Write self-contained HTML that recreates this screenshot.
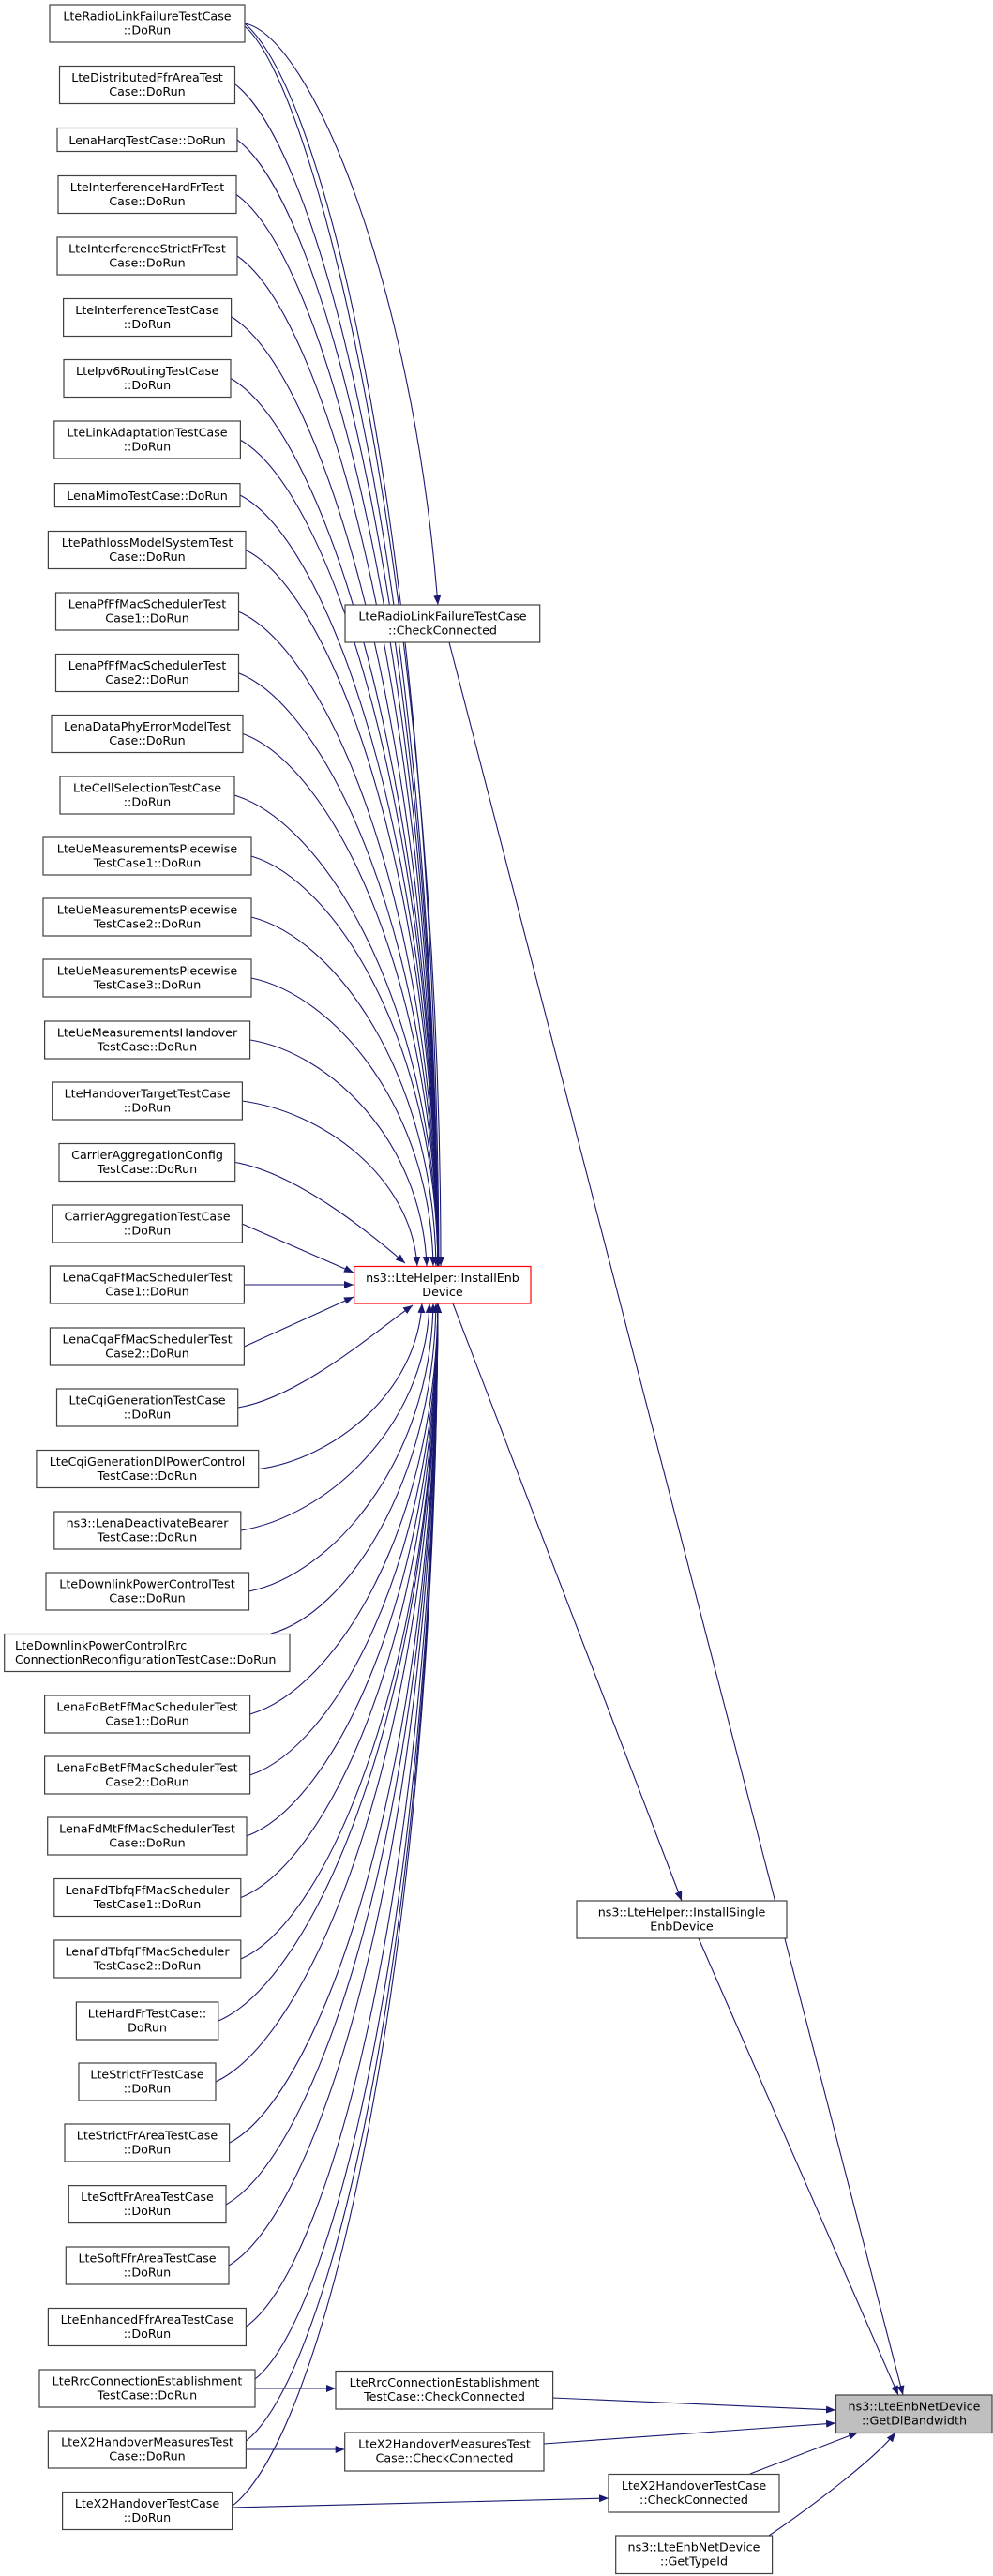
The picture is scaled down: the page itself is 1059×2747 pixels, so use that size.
<!DOCTYPE html>
<html><head><meta charset="utf-8"><style>
html,body{margin:0;padding:0;background:#fff;}
svg{display:block;}
text{font-family:"DejaVu Sans","Liberation Sans",sans-serif;font-size:12.7px;fill:#000;}
.b{fill:#fff;stroke:#404040;stroke-width:1.2;}
.e{fill:none;stroke:#191970;stroke-width:1.1;}
</style></head><body>
<svg width="1059" height="2747" viewBox="0 0 1059 2747" xmlns="http://www.w3.org/2000/svg">
<defs><marker id="a" markerUnits="userSpaceOnUse" markerWidth="11" markerHeight="8" refX="10" refY="4" orient="auto"><path d="M0,0 L10,4 L0,8 z" fill="#191970"/></marker></defs>
<g class="e" marker-end="url(#a)">
<path d="M261,25 C330,38 440,300 467,645"/>
<path d="M261,25 C354,105 465,621 468,1350"/>
<path d="M261,28 C340,95 470,650 470,1350"/>
<path d="M251,90 C348,166 464,657 467,1350"/>
<path d="M253,149 C349,221 464,689 467,1350"/>
<path d="M252,207.5 C349,276 464,722 467,1350"/>
<path d="M253,273 C349,338 464,758 467,1350"/>
<path d="M247,338 C346,399 464,793 467,1350"/>
<path d="M246,403.5 C345,460 464,829 467,1350"/>
<path d="M256,469 C351,522 464,865 467,1350"/>
<path d="M256,528 C351,577 464,898 467,1350"/>
<path d="M262,586.5 C354,632 464,930 467,1350"/>
<path d="M254,652 C350,694 464,966 467,1350"/>
<path d="M254,717.5 C350,755 464,1002 467,1350"/>
<path d="M259,782.5 C352,816 464,1038 467,1350"/>
<path d="M250,848 C348,878 464,1074 467,1350"/>
<path d="M268,913 C357,939 464,1110 467,1350"/>
<path d="M268,978 C357,1000 462,1145 465,1350"/>
<path d="M268,1043 C356,1061 459,1181 462,1350"/>
<path d="M267,1109 C352,1123 450,1217 455,1350"/>
<path d="M258,1174 C342,1185 438,1253 445,1350"/>
<path d="M251,1239.5 C320,1252 400,1320 432,1347"/>
<path d="M258,1305 L377,1357"/>
<path d="M260.5,1370 L377,1370"/>
<path d="M260.5,1436 L377,1383"/>
<path d="M254,1501 C320,1490 400,1420 440,1392"/>
<path d="M276,1566.5 C354,1556 444,1487 450,1390"/>
<path d="M257,1632 C347,1617 454,1523 458,1390"/>
<path d="M265.5,1697 C354,1679 459,1559 462,1390"/>
<path d="M289,1742 C368,1721 462,1584 465,1390"/>
<path d="M266.6,1828 C357,1802 464,1631 467,1390"/>
<path d="M266.6,1893 C357,1863 464,1667 467,1390"/>
<path d="M263,1958 C355,1924 464,1702 467,1390"/>
<path d="M257,2023.5 C352,1985 464,1738 467,1390"/>
<path d="M257,2089 C352,2047 464,1774 467,1390"/>
<path d="M233,2155 C338,2109 464,1811 467,1390"/>
<path d="M230,2220 C336,2170 464,1846 467,1390"/>
<path d="M245,2285 C345,2231 464,1882 467,1390"/>
<path d="M241,2351 C343,2293 464,1918 467,1390"/>
<path d="M244,2416 C345,2354 464,1954 467,1390"/>
<path d="M262.5,2481 C354,2416 464,1990 467,1390"/>
<path d="M272,2537 C358,2468 464,2021 467,1390"/>
<path d="M262.5,2603 C354,2530 464,2057 467,1390"/>
<path d="M248,2672 C347,2595 464,2095 467,1390"/>
<path d="M479,685 L963,2554"/>
<path d="M483,1390 L727,2027"/>
<path d="M745,2067 L958,2554"/>
<path d="M272,2547 L358,2547"/>
<path d="M589.6,2557 L891,2570"/>
<path d="M262.5,2612 L367.7,2612"/>
<path d="M580,2606 L891,2584"/>
<path d="M248,2674 L649,2664"/>
<path d="M800,2638 L915,2594"/>
<path d="M820,2704 C870,2670 935,2620 955,2594"/>
</g>
<g>
<rect class="b" x="53" y="5" width="208" height="40"/><text x="157" y="21.5" text-anchor="middle">LteRadioLinkFailureTestCase</text><text x="157" y="36.5" text-anchor="middle">::DoRun</text>
<rect class="b" x="63.5" y="70.5" width="187" height="40"/><text x="157" y="87" text-anchor="middle">LteDistributedFfrAreaTest</text><text x="157" y="102" text-anchor="middle">Case::DoRun</text>
<rect class="b" x="61" y="136.5" width="192" height="25"/><text x="157" y="154" text-anchor="middle">LenaHarqTestCase::DoRun</text>
<rect class="b" x="62" y="187.5" width="190" height="40"/><text x="157" y="204" text-anchor="middle">LteInterferenceHardFrTest</text><text x="157" y="219" text-anchor="middle">Case::DoRun</text>
<rect class="b" x="61" y="253" width="192" height="40"/><text x="157" y="269.5" text-anchor="middle">LteInterferenceStrictFrTest</text><text x="157" y="284.5" text-anchor="middle">Case::DoRun</text>
<rect class="b" x="67.6" y="318.5" width="179" height="40"/><text x="157" y="335" text-anchor="middle">LteInterferenceTestCase</text><text x="157" y="350" text-anchor="middle">::DoRun</text>
<rect class="b" x="68" y="383.5" width="178" height="40"/><text x="157" y="400" text-anchor="middle">LteIpv6RoutingTestCase</text><text x="157" y="415" text-anchor="middle">::DoRun</text>
<rect class="b" x="57.8" y="449" width="198.6" height="40"/><text x="157" y="465.5" text-anchor="middle">LteLinkAdaptationTestCase</text><text x="157" y="480.5" text-anchor="middle">::DoRun</text>
<rect class="b" x="58.4" y="515.6" width="197.6" height="25"/><text x="157" y="533" text-anchor="middle">LenaMimoTestCase::DoRun</text>
<rect class="b" x="51.4" y="566.5" width="210.6" height="40"/><text x="157" y="583" text-anchor="middle">LtePathlossModelSystemTest</text><text x="157" y="598" text-anchor="middle">Case::DoRun</text>
<rect class="b" x="59.5" y="632" width="195" height="40"/><text x="157" y="648.5" text-anchor="middle">LenaPfFfMacSchedulerTest</text><text x="157" y="663.5" text-anchor="middle">Case1::DoRun</text>
<rect class="b" x="59.5" y="697.5" width="195" height="40"/><text x="157" y="714" text-anchor="middle">LenaPfFfMacSchedulerTest</text><text x="157" y="729" text-anchor="middle">Case2::DoRun</text>
<rect class="b" x="55" y="762.5" width="204" height="40"/><text x="157" y="779" text-anchor="middle">LenaDataPhyErrorModelTest</text><text x="157" y="794" text-anchor="middle">Case::DoRun</text>
<rect class="b" x="64" y="828" width="186" height="40"/><text x="157" y="844.5" text-anchor="middle">LteCellSelectionTestCase</text><text x="157" y="859.5" text-anchor="middle">::DoRun</text>
<rect class="b" x="46" y="893" width="222" height="40"/><text x="157" y="909.5" text-anchor="middle">LteUeMeasurementsPiecewise</text><text x="157" y="924.5" text-anchor="middle">TestCase1::DoRun</text>
<rect class="b" x="46" y="958" width="222" height="40"/><text x="157" y="974.5" text-anchor="middle">LteUeMeasurementsPiecewise</text><text x="157" y="989.5" text-anchor="middle">TestCase2::DoRun</text>
<rect class="b" x="46" y="1023" width="222" height="40"/><text x="157" y="1039.5" text-anchor="middle">LteUeMeasurementsPiecewise</text><text x="157" y="1054.5" text-anchor="middle">TestCase3::DoRun</text>
<rect class="b" x="47.6" y="1089" width="219" height="40"/><text x="157" y="1105.5" text-anchor="middle">LteUeMeasurementsHandover</text><text x="157" y="1120.5" text-anchor="middle">TestCase::DoRun</text>
<rect class="b" x="55.7" y="1154" width="202.7" height="40"/><text x="157" y="1170.5" text-anchor="middle">LteHandoverTargetTestCase</text><text x="157" y="1185.5" text-anchor="middle">::DoRun</text>
<rect class="b" x="63" y="1219.5" width="187.7" height="40"/><text x="157" y="1236" text-anchor="middle">CarrierAggregationConfig</text><text x="157" y="1251" text-anchor="middle">TestCase::DoRun</text>
<rect class="b" x="55.7" y="1285" width="202.7" height="40"/><text x="157" y="1301.5" text-anchor="middle">CarrierAggregationTestCase</text><text x="157" y="1316.5" text-anchor="middle">::DoRun</text>
<rect class="b" x="53.4" y="1350" width="207" height="40"/><text x="157" y="1366.5" text-anchor="middle">LenaCqaFfMacSchedulerTest</text><text x="157" y="1381.5" text-anchor="middle">Case1::DoRun</text>
<rect class="b" x="53.4" y="1416" width="207" height="40"/><text x="157" y="1432.5" text-anchor="middle">LenaCqaFfMacSchedulerTest</text><text x="157" y="1447.5" text-anchor="middle">Case2::DoRun</text>
<rect class="b" x="60.5" y="1481" width="193.2" height="40"/><text x="157" y="1497.5" text-anchor="middle">LteCqiGenerationTestCase</text><text x="157" y="1512.5" text-anchor="middle">::DoRun</text>
<rect class="b" x="38.9" y="1546.5" width="236.8" height="40"/><text x="157" y="1563" text-anchor="middle">LteCqiGenerationDlPowerControl</text><text x="157" y="1578" text-anchor="middle">TestCase::DoRun</text>
<rect class="b" x="57.8" y="1612" width="199" height="40"/><text x="157" y="1628.5" text-anchor="middle">ns3::LenaDeactivateBearer</text><text x="157" y="1643.5" text-anchor="middle">TestCase::DoRun</text>
<rect class="b" x="49" y="1677" width="216.5" height="40"/><text x="157" y="1693.5" text-anchor="middle">LteDownlinkPowerControlTest</text><text x="157" y="1708.5" text-anchor="middle">Case::DoRun</text>
<rect class="b" x="4.7" y="1742.5" width="304.3" height="40"/><text x="16" y="1759">LteDownlinkPowerControlRrc</text><text x="16" y="1774">ConnectionReconfigurationTestCase::DoRun</text>
<rect class="b" x="47.6" y="1808" width="219" height="40"/><text x="157" y="1824.5" text-anchor="middle">LenaFdBetFfMacSchedulerTest</text><text x="157" y="1839.5" text-anchor="middle">Case1::DoRun</text>
<rect class="b" x="47.6" y="1873" width="219" height="40"/><text x="157" y="1889.5" text-anchor="middle">LenaFdBetFfMacSchedulerTest</text><text x="157" y="1904.5" text-anchor="middle">Case2::DoRun</text>
<rect class="b" x="50.7" y="1938" width="212.3" height="40"/><text x="157" y="1954.5" text-anchor="middle">LenaFdMtFfMacSchedulerTest</text><text x="157" y="1969.5" text-anchor="middle">Case::DoRun</text>
<rect class="b" x="57.8" y="2003.5" width="199" height="40"/><text x="157" y="2020" text-anchor="middle">LenaFdTbfqFfMacScheduler</text><text x="157" y="2035" text-anchor="middle">TestCase1::DoRun</text>
<rect class="b" x="57.8" y="2069" width="199" height="40"/><text x="157" y="2085.5" text-anchor="middle">LenaFdTbfqFfMacScheduler</text><text x="157" y="2100.5" text-anchor="middle">TestCase2::DoRun</text>
<rect class="b" x="81.4" y="2135" width="151.4" height="40"/><text x="157" y="2151.5" text-anchor="middle">LteHardFrTestCase::</text><text x="157" y="2166.5" text-anchor="middle">DoRun</text>
<rect class="b" x="84" y="2200" width="146" height="40"/><text x="157" y="2216.5" text-anchor="middle">LteStrictFrTestCase</text><text x="157" y="2231.5" text-anchor="middle">::DoRun</text>
<rect class="b" x="69" y="2265" width="175.6" height="40"/><text x="157" y="2281.5" text-anchor="middle">LteStrictFrAreaTestCase</text><text x="157" y="2296.5" text-anchor="middle">::DoRun</text>
<rect class="b" x="73.3" y="2330.6" width="167.7" height="40"/><text x="157" y="2347" text-anchor="middle">LteSoftFrAreaTestCase</text><text x="157" y="2362" text-anchor="middle">::DoRun</text>
<rect class="b" x="70.3" y="2396" width="173.7" height="40"/><text x="157" y="2412.5" text-anchor="middle">LteSoftFfrAreaTestCase</text><text x="157" y="2427.5" text-anchor="middle">::DoRun</text>
<rect class="b" x="51.4" y="2461.5" width="211" height="40"/><text x="157" y="2478" text-anchor="middle">LteEnhancedFfrAreaTestCase</text><text x="157" y="2493" text-anchor="middle">::DoRun</text>
<rect class="b" x="42" y="2527" width="230" height="40"/><text x="157" y="2543.5" text-anchor="middle">LteRrcConnectionEstablishment</text><text x="157" y="2558.5" text-anchor="middle">TestCase::DoRun</text>
<rect class="b" x="51.4" y="2592" width="211" height="40"/><text x="157" y="2608.5" text-anchor="middle">LteX2HandoverMeasuresTest</text><text x="157" y="2623.5" text-anchor="middle">Case::DoRun</text>
<rect class="b" x="66.6" y="2657.5" width="181" height="40"/><text x="157" y="2674" text-anchor="middle">LteX2HandoverTestCase</text><text x="157" y="2689" text-anchor="middle">::DoRun</text>

<rect class="b" x="368" y="645" width="207.7" height="40"/><text x="472" y="661.5" text-anchor="middle">LteRadioLinkFailureTestCase</text><text x="472" y="676.5" text-anchor="middle">::CheckConnected</text>
<rect x="377.7" y="1350.5" width="188.3" height="39.5" fill="#fff" stroke="#ff0000" stroke-width="1.2"/><text x="472" y="1367" text-anchor="middle">ns3::LteHelper::InstallEnb</text><text x="472" y="1382" text-anchor="middle">Device</text>
<rect class="b" x="615" y="2027" width="224" height="40"/><text x="727" y="2043.5" text-anchor="middle">ns3::LteHelper::InstallSingle</text><text x="727" y="2058.5" text-anchor="middle">EnbDevice</text>
<rect class="b" x="358" y="2528.5" width="231.6" height="40.5"/><text x="474" y="2545" text-anchor="middle">LteRrcConnectionEstablishment</text><text x="474" y="2560" text-anchor="middle">TestCase::CheckConnected</text>
<rect class="b" x="367.7" y="2594" width="212.3" height="41"/><text x="474" y="2610.5" text-anchor="middle">LteX2HandoverMeasuresTest</text><text x="474" y="2625.5" text-anchor="middle">Case::CheckConnected</text>
<rect class="b" x="649" y="2638.5" width="182" height="40.5"/><text x="740" y="2655" text-anchor="middle">LteX2HandoverTestCase</text><text x="740" y="2670" text-anchor="middle">::CheckConnected</text>
<rect class="b" x="656.7" y="2704" width="166.9" height="40.5"/><text x="740" y="2720.5" text-anchor="middle">ns3::LteEnbNetDevice</text><text x="740" y="2735.5" text-anchor="middle">::GetTypeId</text>
<rect x="891.5" y="2554" width="166.5" height="40.5" fill="#bfbfbf" stroke="#404040" stroke-width="1.2"/><text x="975" y="2570.5" text-anchor="middle">ns3::LteEnbNetDevice</text><text x="975" y="2585.5" text-anchor="middle">::GetDlBandwidth</text>
</g>
</svg>
</body></html>
